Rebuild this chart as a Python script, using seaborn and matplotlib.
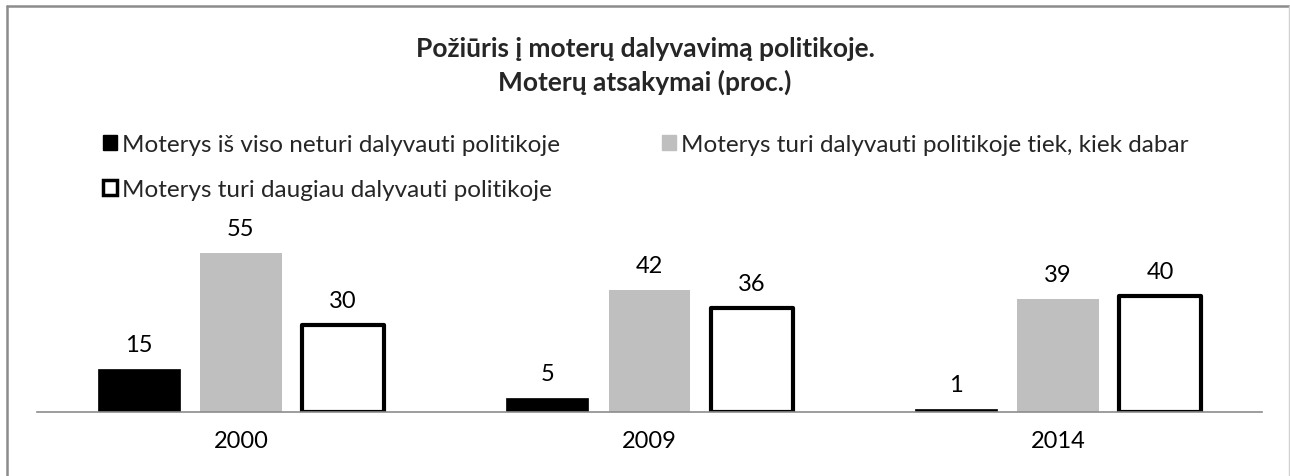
import matplotlib
matplotlib.use("Agg")
import matplotlib.pyplot as plt
import seaborn as sns
import pandas as pd
from matplotlib.patches import Patch
from matplotlib.lines import Line2D

years = ["2000", "2009", "2014"]
series_names = [
    "Moterys iš viso neturi dalyvauti politikoje",
    "Moterys turi dalyvauti politikoje tiek, kiek dabar",
    "Moterys turi daugiau dalyvauti politikoje",
]
values_none = [15, 5, 1]
values_same = [55, 42, 39]
values_more = [30, 36, 40]
title_text = "Požiūris į moterų dalyvavimą politikoje.\nMoterų atsakymai (proc.)"

sns.set_theme(style="white")
plt.rcParams["font.family"] = ["Lato", "DejaVu Sans"]

rows = []
for name, vals in zip(series_names, [values_none, values_same, values_more]):
    for y, v in zip(years, vals):
        rows.append({"year": y, "series": name, "value": v})
df = pd.DataFrame(rows)

fig = plt.figure(figsize=(12.9, 4.77), dpi=100)
ax = fig.add_axes([36.5 / 1290, 64 / 477, 1226 / 1290, 174 / 477])

palette = {series_names[0]: "#000000", series_names[1]: "#bfbfbf", series_names[2]: "#ffffff"}
sns.barplot(data=df, x="year", y="value", hue="series", order=years,
            hue_order=series_names, palette=palette, width=0.75, gap=0.2,
            saturation=1, legend=False, ax=ax)

FS = 17
for i, cont in enumerate(ax.containers):
    for bar in cont:
        if i == 2:
            bar.set_edgecolor("black")
            bar.set_linewidth(3)
            bar.set_joinstyle("round")
        elif i == 0:
            bar.set_edgecolor("black")
            bar.set_linewidth(0.5)
        else:
            bar.set_linewidth(0)
    ax.bar_label(cont, fmt="%d", padding=10, fontsize=FS, color="#000000")

ax.set_ylim(0, 60)
ax.set_xlim(-0.5, 2.5)
ax.set_xlabel("")
ax.set_ylabel("")
ax.set_yticks([])
ax.tick_params(axis="x", length=0, labelsize=FS, pad=13, colors="#000000")
for s in ["top", "right", "left"]:
    ax.spines[s].set_visible(False)
ax.spines["bottom"].set_color("#8c8c8c")
ax.spines["bottom"].set_linewidth(1.2)
ax.set_zorder(2)

fig.text(0.5, 1 - 66 / 477, title_text, ha="center", va="center",
         fontsize=19, fontweight="bold", linespacing=1.45)

LFS = 17.5
handles = [
    Patch(facecolor="#000000", edgecolor="#000000"),
    Patch(facecolor="#ffffff", edgecolor="#000000", linewidth=2.5),
    Patch(facecolor="#bfbfbf", edgecolor="#bfbfbf"),
]
labels = [series_names[0], series_names[2], series_names[1]]
fig.legend(handles, labels, ncol=2, loc="upper left",
           bbox_to_anchor=(103 / 1290, 1 - 135 / 477), frameon=False,
           fontsize=LFS, handlelength=0.58, handleheight=0.58,
           handletextpad=0.2, columnspacing=4.2, labelspacing=1.0,
           borderpad=0, borderaxespad=0)

# outer frame
fig.add_artist(Line2D([6.5 / 1290, 6.5 / 1290], [0, 1 - 7 / 477], color="#8c8c8c", lw=1.8,
                      transform=fig.transFigure))
fig.add_artist(Line2D([6.5 / 1290, 1289 / 1290], [1 - 7 / 477, 1 - 7 / 477], color="#8c8c8c", lw=1.8,
                      transform=fig.transFigure))
fig.add_artist(Line2D([1289 / 1290, 1289 / 1290], [0, 1 - 7 / 477], color="#d0d0d0", lw=1.0,
                      transform=fig.transFigure))

fig.savefig("out.png", dpi=100, facecolor="white")
